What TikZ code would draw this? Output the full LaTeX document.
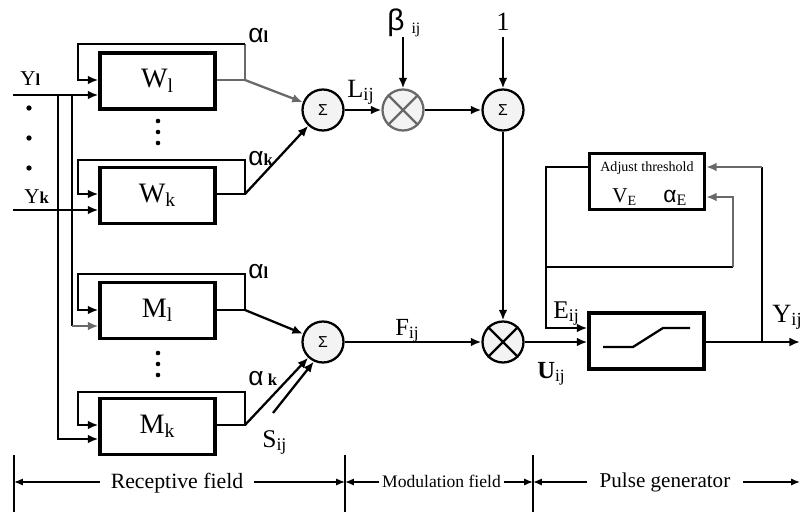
\documentclass[tikz,border=0pt]{standalone}
\usepackage{fontspec}
\setmainfont{Liberation Serif}
\newfontfamily\grk{Liberation Sans}
\usetikzlibrary{arrows.meta,positioning,calc}
\definecolor{pcgray}{RGB}{105,105,105}
\definecolor{pcfill}{RGB}{243,243,243}
\tikzset{
  blk/.style={draw, line width=1.9pt, minimum width=2.3cm, minimum height=1.12cm,
              inner sep=0pt, font=\fontsize{16}{16}\selectfont},
  sumc/.style={draw=#1, circle, line width=1.3pt, fill=pcfill, minimum size=0.82cm,
               inner sep=0pt, font=\grk\fontsize{9}{9}\selectfont},
  sumc/.default=black,
  con/.style={line width=1.3pt, -{Latex[length=6pt,width=5pt]}},
  lin/.style={line width=1.3pt},
  lbl/.style={inner sep=0pt, anchor=base west, font=\fontsize{13.5}{13.5}\selectfont},
  gk/.style={inner sep=0pt, anchor=base west, font=\grk\fontsize{15}{15}\selectfont},
  dim/.style={line width=0.8pt},
  dimarr/.style={line width=0.8pt, -{Latex[length=5pt,width=4pt]}},
  fld/.style={anchor=base, font=\fontsize{12.4}{12.4}\selectfont},
}
\newcommand{\bsub}[1]{{\rmfamily\fontsize{9.5}{9.5}\selectfont\textbf{#1}}}

\begin{document}
\begin{tikzpicture}[x=0.2mm, y=-0.2mm]
\useasboundingbox (0,0) rectangle (800,513);

% receptive field blocks
\node[blk] (W1) at (157.5,81) {W\textsubscript{l}};
\node[blk] (Wk) at (157.5,195.5) {W\textsubscript{k}};
\node[blk] (M1) at (157.5,310.5) {M\textsubscript{l}};
\node[blk] (Mk) at (157.5,426.5) {M\textsubscript{k}};

\foreach \y in {121,132,143,353,364,375}
  \fill (158,\y) circle (1.3pt);
\foreach \y in {108,138,168}
  \fill (29,\y) circle (1.5pt);

% inputs
\coordinate (inY1) at (13,95);
\coordinate (inYk) at (13,210);
\node[lbl, font=\fontsize{12}{12}\selectfont] (lY1) at (20,85) {Y\bsub{l}};
\node[lbl, font=\fontsize{12}{12}\selectfont] (lYk) at (24,203) {Y\bsub{k}};
\draw[con] (inY1) -- (inY1 -| W1.west);
\draw[con] (inYk) -- (inYk -| Wk.west);
\draw[con] (inY1 -| 58,0) |- (Mk.west |- 0,439);
\draw[lin] (inY1 -| 72,0) -- (72,326);
\draw[con, pcgray] (72,326) -- (M1.west |- 0,326);

% feedback loops
\coordinate (oW1) at (245,80);
\coordinate (oWk) at (245,194);
\coordinate (oM1) at (245,310);
\coordinate (oMk) at (245,425);
\draw[lin, pcgray] (W1.east |- oW1) -- (oW1) -- (245,44);
\draw[con] (245,44) -| (78,80) -- (W1.west |- oW1);
\foreach \b/\yt in {Wk/160, M1/274, Mk/392}
  \draw[con] (\b.east |- o\b) -- (o\b) |- (78,\yt) |- (\b.west |- o\b);

% summing and modulation
\node[sumc] (S1) at (323,110) {Σ};
\node[sumc=pcgray] (X1) at (403,110) {};
\node[sumc] (S3) at (503,110) {Σ};
\node[sumc] (S2) at (323,342) {Σ};
\node[sumc] (X2) at (503,342) {};
\draw[pcgray, line width=1.3pt] (X1.north east) -- (X1.south west) (X1.north west) -- (X1.south east);
\draw[line width=1.3pt] (X2.north east) -- (X2.south west) (X2.north west) -- (X2.south east);

\draw[con, pcgray] (oW1) -- (S1);
\draw[con] (oWk) -- (S1);
\draw[con] (oM1) -- (S2);
\draw[con] (oMk) -- (S2);
\coordinate (sin) at (273,413);
\draw[con] (sin) -- (S2.245);

\node[gk] (a1) at (248,42) {α\bsub{l}};
\node[gk] (ak) at (248,165) {α\bsub{k}};
\node[gk] (a2) at (248,278) {α\bsub{l}};
\node[gk] (ak2) at (248,385) {α\,\bsub{k}};
\node[lbl, font=\fontsize{14.5}{14.5}\selectfont] (lS) at (262,447) {S\textsubscript{ij}};

\coordinate (bin) at (403,37);
\coordinate (oin) at (503,37);
\node[lbl, font=\fontsize{17}{17}\selectfont] (lb) at (387,30) {{\grk β}\hspace{4pt}\raisebox{-2pt}{\fontsize{9}{9}\selectfont ij}};
\node[lbl, anchor=base, font=\fontsize{15}{15}\selectfont] (l1) at (503,30) {1};
\draw[con] (bin) -- (X1);
\draw[con] (oin) -- (S3);
\draw[con] (S1) -- (X1);
\draw[con] (X1) -- (S3);
\draw[con] (S3) -- (X2);
\draw[con] (S2) -- (X2);
\node[lbl, font=\fontsize{15}{15}\selectfont] (lL) at (347,97) {L\textsubscript{ij}};
\node[lbl, font=\fontsize{14}{14}\selectfont] (lF) at (395,335) {F\textsubscript{ij}};

% pulse generator
\node[blk] (AT) at (647,181.5) {};
\node[blk] (PG) at (646.5,341) {};
\node[font=\fontsize{8}{8}\selectfont, anchor=base] (lat) at (647,172) {Adjust threshold};
\node[lbl, font=\fontsize{12}{12}\selectfont] (lV) at (612,202) {V\textsubscript{E}};
\node[gk, font=\grk\fontsize{13}{13}\selectfont] (lA) at (663,202) {α{\rmfamily\textsubscript{E}}};
\draw[lin] (603,347) -- (633,347) -- (663,328) -- (690,328);

\draw[con] (AT.west |- 0,167) -| (546,328) -- (PG.west |- 0,328);
\draw[lin] (546,267) -- (733,267);
\draw[con, pcgray] (733,267) |- (AT.east |- 0,197);
\draw[con] (X2) -- (X2 -| PG.west);
\coordinate (yout) at (800,342);
\draw[con] (PG.east |- X2) -- (yout);
\draw[lin] (762,342) -- (762,167);
\draw[con, pcgray] (762,167) -- (AT.east |- 0,167);

\node[lbl, font=\fontsize{14.5}{14.5}\selectfont] (lE) at (553,318) {E\textsubscript{ij}};
\node[lbl, font=\fontsize{14}{14}\selectfont] (lU) at (537,378) {\textbf{U}\textsubscript{ij}};
\node[lbl, font=\fontsize{15}{15}\selectfont] (lYo) at (772,322) {Y\textsubscript{ij}};

% field dimensions
\foreach \x in {14,345,533}
  \draw[dim] (\x,455) -- (\x,512);
\coordinate (t1) at (14,482);
\coordinate (t2) at (345,482);
\coordinate (t3) at (533,482);
\coordinate (t4) at (800,482);
\node[fld, inner xsep=6pt] (rf) at (177,488) {Receptive field};
\node[fld, inner xsep=1.5pt, font=\fontsize{10}{10}\selectfont] (mf) at (441.5,487) {Modulation field};
\node[fld, inner xsep=7pt, font=\fontsize{12}{12}\selectfont] (pf) at (665,487) {Pulse generator};
\draw[dimarr] (rf.west |- t1) -- (t1);
\draw[dimarr] (rf.east |- t2) -- (t2);
\draw[dimarr] (mf.west |- t2) -- (t2);
\draw[dimarr] (mf.east |- t3) -- (t3);
\draw[dimarr] (pf.west |- t3) -- (t3);
\draw[dimarr] (pf.east |- t4) -- (t4);

\end{tikzpicture}
\end{document}
